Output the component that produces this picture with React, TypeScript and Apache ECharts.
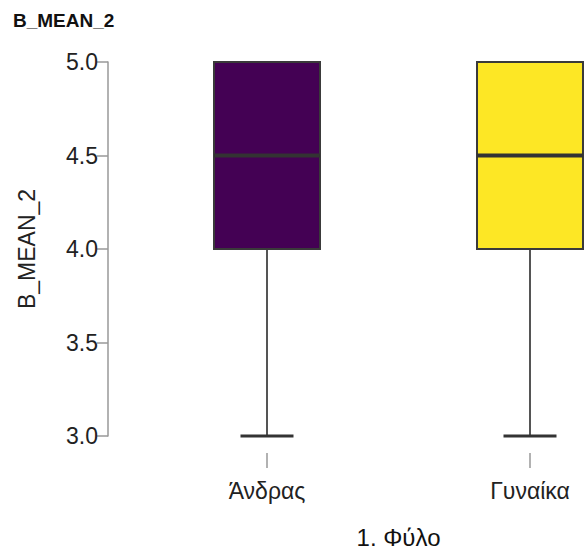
import React, { useEffect, useRef } from "react";
import * as echarts from "echarts";

const categories = ["Άνδρας", "Γυναίκα"];
const lowerWhisker = [3.0, 3.0];
const q1 = [4.0, 4.0];
const median = [4.5, 4.5];
const q3 = [5.0, 5.0];
const upperWhisker = [5.0, 5.0];
const boxColors = ["#440154", "#FDE725"];
const yTicks = { min: 3.0, max: 5.0, interval: 0.5 };

export default function App() {
  const ref = useRef<HTMLDivElement>(null);
  useEffect(() => {
    if (!ref.current) return;
    const chart = echarts.init(ref.current, null, { renderer: "svg" });
    const data = categories.map((c, i) => [i, lowerWhisker[i], q1[i], median[i], q3[i], upperWhisker[i]]);
    const font = "Liberation Sans, Arial, sans-serif";
    chart.setOption({
      animation: false,
      backgroundColor: "#ffffff",
      title: {
        text: "B_MEAN_2",
        left: 8,
        top: 6,
        textStyle: { fontFamily: font, fontSize: 19, fontWeight: "bold", color: "#111" },
      },
      grid: { left: 267, top: 62, right: 55, height: 374, containLabel: false },
      xAxis: {
        type: "category",
        data: categories,
        boundaryGap: false,
        offset: 17,
        axisLine: { show: false },
        axisTick: { show: true, length: 15, lineStyle: { color: "#999", width: 1.5 } },
        axisLabel: { fontFamily: font, fontSize: 23, color: "#222", margin: 26 },
        splitLine: { show: false },
        name: "1. Φύλο",
        nameLocation: "middle",
        nameGap: 72,
        nameTextStyle: { fontFamily: font, fontSize: 24, color: "#111" },
      },
      yAxis: {
        type: "value",
        min: yTicks.min,
        max: yTicks.max,
        interval: yTicks.interval,
        offset: 159,
        axisLine: { show: true, lineStyle: { color: "#999", width: 1.5 } },
        axisTick: { show: true, length: 11, lineStyle: { color: "#999", width: 1.5 } },
        axisLabel: {
          fontFamily: font,
          fontSize: 23,
          color: "#222",
          margin: 10,
          formatter: (v: number) => v.toFixed(1),
        },
        splitLine: { show: false },
        name: "B_MEAN_2",
        nameLocation: "middle",
        nameGap: 70,
        nameTextStyle: { fontFamily: font, fontSize: 23, color: "#222" },
      },
      series: [
        {
          type: "custom",
          data,
          clip: false,
          encode: { x: 0, y: [1, 2, 3, 4, 5] },
          renderItem: (params: any, api: any) => {
            const i = api.value(0);
            const pLo = api.coord([i, api.value(1)]);
            const pQ1 = api.coord([i, api.value(2)]);
            const pMed = api.coord([i, api.value(3)]);
            const pQ3 = api.coord([i, api.value(4)]);
            const pHi = api.coord([i, api.value(5)]);
            const w = api.size([1, 0])[0] * 0.403;
            const cx = pQ1[0];
            const capW = w / 2;
            const color = boxColors[params.dataIndex];
            return {
              type: "group",
              children: [
                { type: "line", shape: { x1: cx, y1: pLo[1], x2: cx, y2: pQ1[1] }, style: { stroke: "#555", lineWidth: 2 } },
                { type: "line", shape: { x1: cx, y1: pQ3[1], x2: cx, y2: pHi[1] }, style: { stroke: "#555", lineWidth: 2 } },
                {
                  type: "rect",
                  shape: { x: cx - w / 2, y: pQ3[1], width: w, height: pQ1[1] - pQ3[1] },
                  style: { fill: color, stroke: "#3a3a3a", lineWidth: 2 },
                },
                { type: "line", shape: { x1: cx - w / 2, y1: pMed[1], x2: cx + w / 2, y2: pMed[1] }, style: { stroke: "#333", lineWidth: 4 } },
                { type: "line", shape: { x1: cx - capW / 2, y1: pLo[1], x2: cx + capW / 2, y2: pLo[1] }, style: { stroke: "#333", lineWidth: 3 } },
                { type: "line", shape: { x1: cx - capW / 2, y1: pHi[1], x2: cx + capW / 2, y2: pHi[1] }, style: { stroke: "#3a3a3a", lineWidth: 2 } },
              ],
            };
          },
        },
      ],
    });
    return () => chart.dispose();
  }, []);
  return <div ref={ref} style={{ position: "fixed", left: 0, top: 0, width: 585, height: 554 }} />;
}
